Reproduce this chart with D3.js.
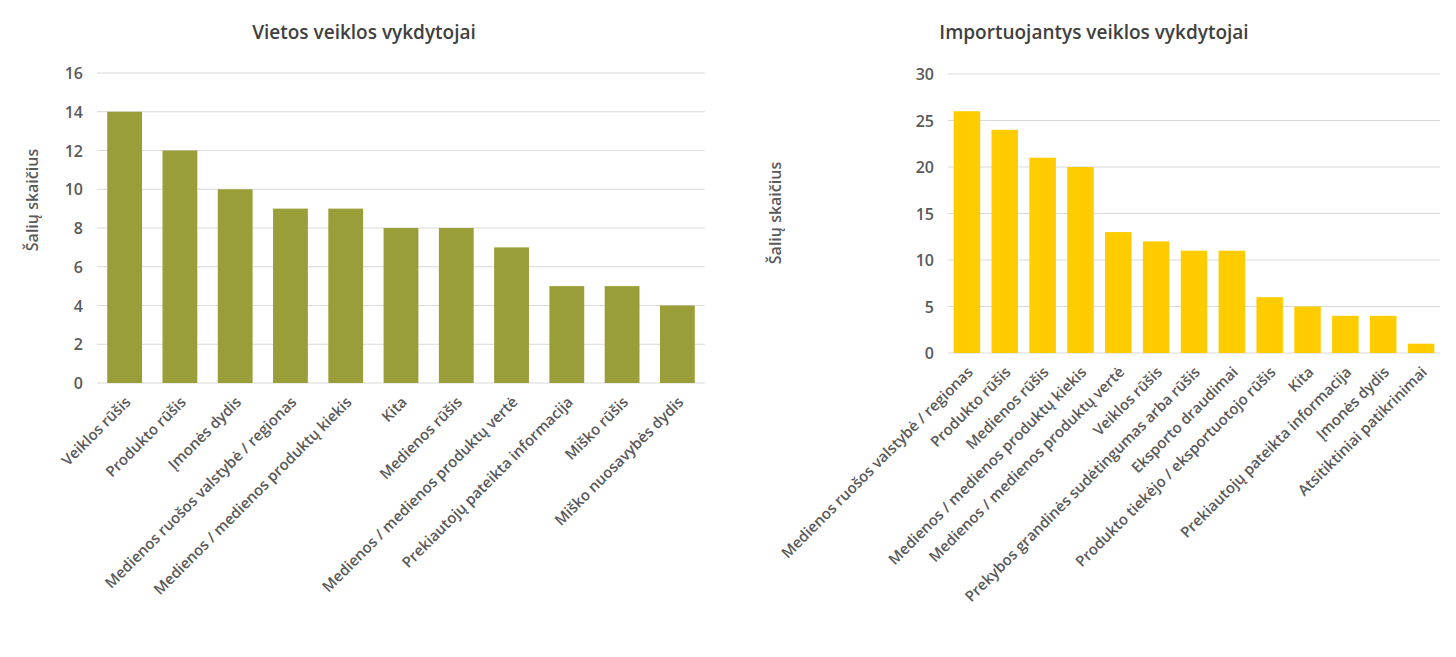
<html>
<head>
<script src="https://d3js.org/d3.v7.min.js"></script>
<style>
  body { margin:0; background:#fff; }
  text { font-family: "Open Sans", "Noto Sans", sans-serif; fill:#595959; }
</style>
</head>
<body>
<svg id="svg" width="1456" height="657"></svg>
<script>
var leftCats = ["Veiklos rūšis", "Produkto rūšis", "Įmonės dydis", "Medienos ruošos valstybė / regionas",
  "Medienos / medienos produktų kiekis", "Kita", "Medienos rūšis", "Medienos / medienos produktų vertė",
  "Prekiautojų pateikta informacija", "Miško rūšis", "Miško nuosavybės dydis"];
var leftVals = [14, 12, 10, 9, 9, 8, 8, 7, 5, 5, 4];
var leftTicks = [0, 2, 4, 6, 8, 10, 12, 14, 16];

var rightCats = ["Medienos ruošos valstybė / regionas", "Produkto rūšis", "Medienos rūšis",
  "Medienos / medienos produktų kiekis", "Medienos / medienos produktų vertė", "Veiklos rūšis",
  "Prekybos grandinės sudėtingumas arba rūšis", "Eksporto draudimai", "Produkto tiekėjo / eksportuotojo rūšis",
  "Kita", "Prekiautojų pateikta informacija", "Įmonės dydis", "Atsitiktiniai patikrinimai"];
var rightVals = [26, 24, 21, 20, 13, 12, 11, 11, 6, 5, 4, 4, 1];
var rightTicks = [0, 5, 10, 15, 20, 25, 30];

var svg = d3.select("#svg");

function chart(o) {
  var x = d3.scaleBand().domain(o.cats).range([o.x0, o.x1]).paddingInner(o.pad).paddingOuter(o.pad / 2);
  var y = d3.scaleLinear().domain([0, o.max]).range([o.y0, o.y1]);
  var g = svg.append("g");
  g.selectAll("line.grid").data(o.ticks).enter().append("line")
    .attr("x1", o.x0).attr("x2", o.x1).attr("y1", y).attr("y2", y)
    .attr("stroke", "#d9d9d9").attr("stroke-width", 1);
  g.selectAll("text.tick").data(o.ticks).enter().append("text")
    .attr("x", o.x0 - 14).attr("y", function(d) { return y(d) + 6; })
    .attr("text-anchor", "end").style("font-size", "16px").style("font-weight", 600)
    .text(function(d) { return d; });
  g.selectAll("rect").data(o.vals).enter().append("rect")
    .attr("x", function(d, i) { return x(o.cats[i]); })
    .attr("width", x.bandwidth())
    .attr("y", function(d) { return y(d); })
    .attr("height", function(d) { return o.y0 - y(d); })
    .attr("fill", o.color);
  g.selectAll("text.cat").data(o.cats).enter().append("text")
    .attr("transform", function(d) { return "translate(" + (x(d) + x.bandwidth() / 2 + 7) + "," + (o.y0 + 20) + ") rotate(-45)"; })
    .attr("text-anchor", "end").style("font-size", "15px").style("font-weight", 600)
    .text(function(d) { return d; });
  g.append("text").attr("x", o.tx).attr("y", o.ty).attr("text-anchor", "middle")
    .style("font-size", "19px").style("font-weight", 600).style("fill", "#404040").text(o.title);
  g.append("text").attr("transform", "translate(" + o.ax + "," + o.ay + ") rotate(-90)")
    .attr("text-anchor", "middle").style("font-size", "16px").style("font-weight", 600).text("Šalių skaičius");
}

chart({cats: leftCats, vals: leftVals, ticks: leftTicks, max: 16, x0: 97, x1: 705, y0: 383, y1: 73,
  pad: 0.37, color: "#9a9e38", title: "Vietos veiklos vykdytojai", tx: 364, ty: 39, ax: 38, ay: 200});
chart({cats: rightCats, vals: rightVals, ticks: rightTicks, max: 30, x0: 948, x1: 1440, y0: 353, y1: 74,
  pad: 0.3, color: "#ffcc00", title: "Importuojantys veiklos vykdytojai", tx: 1094, ty: 39, ax: 781, ay: 213});
</script>
</body>
</html>
